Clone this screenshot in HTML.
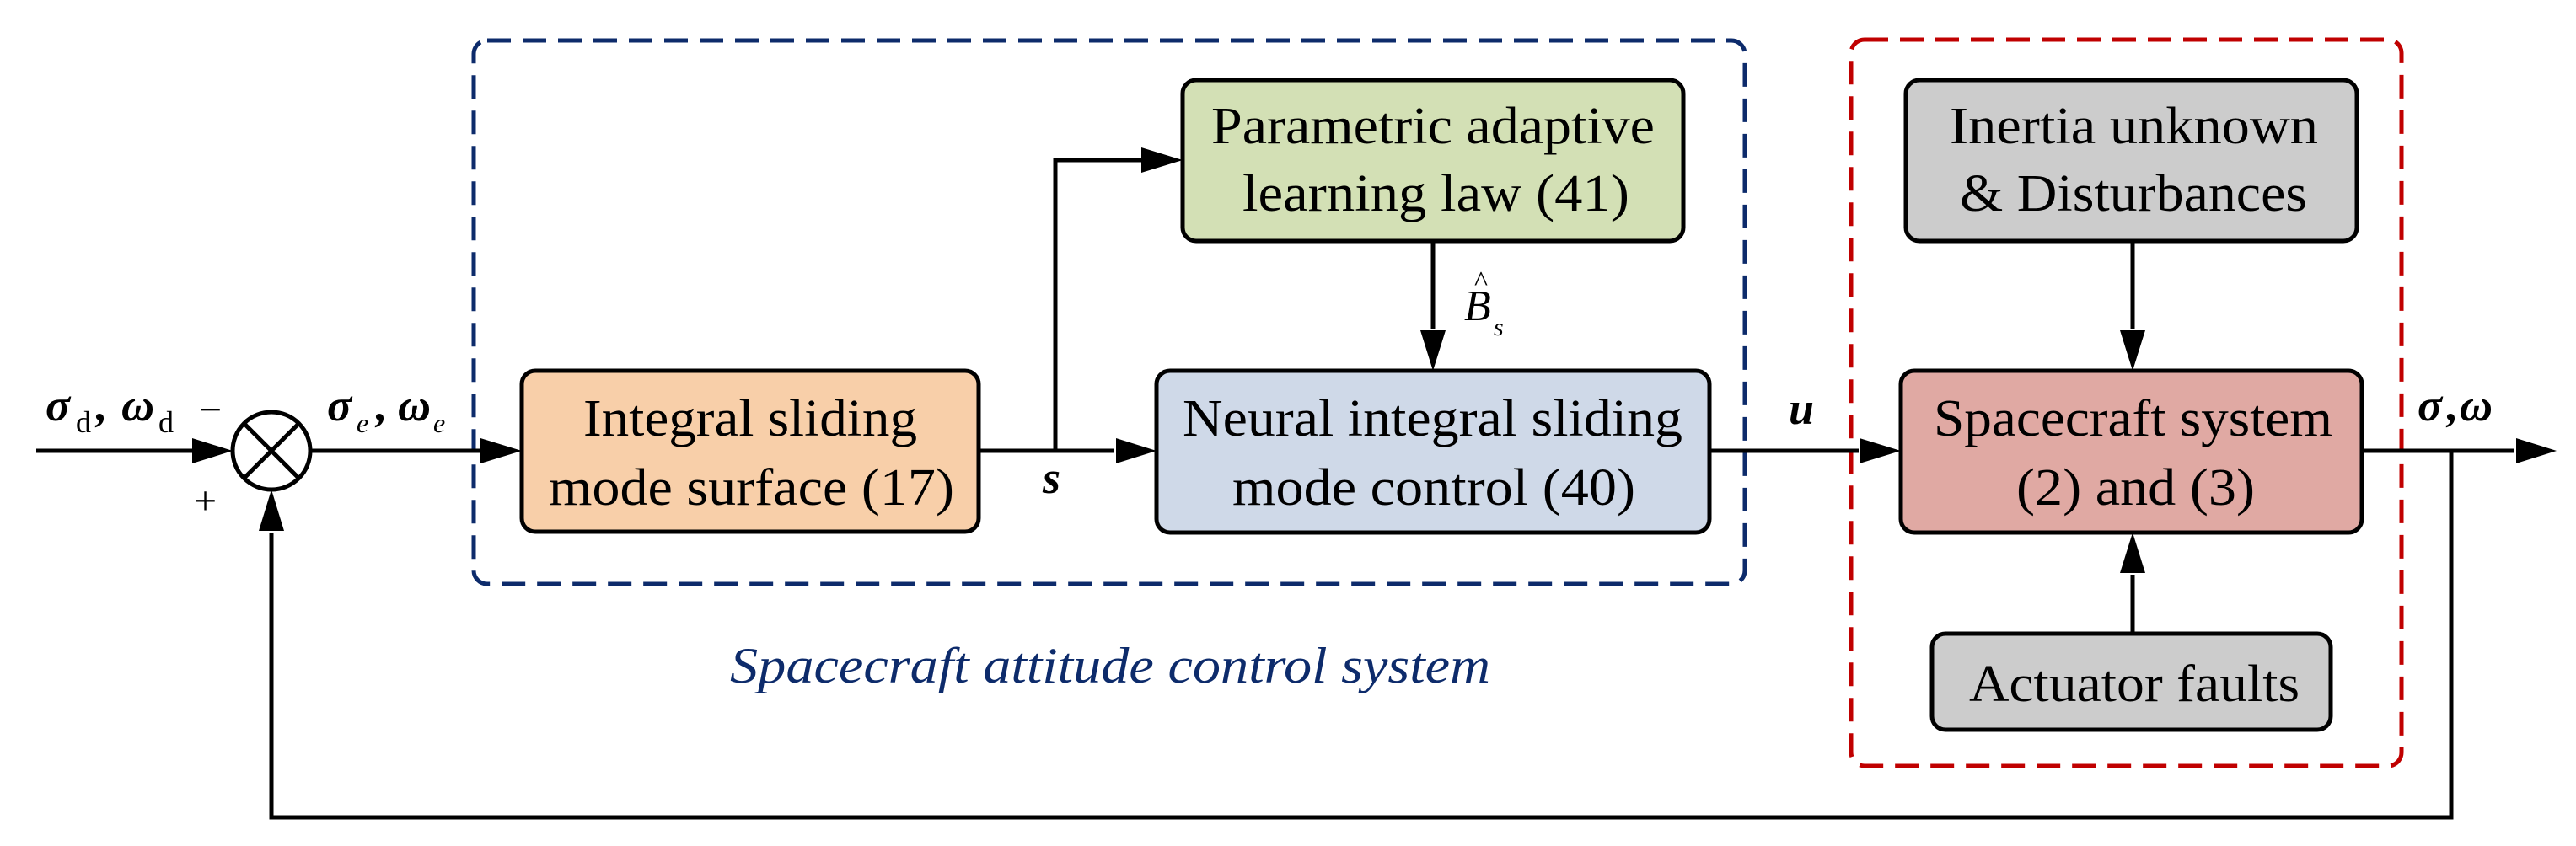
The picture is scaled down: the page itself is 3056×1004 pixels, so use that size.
<!DOCTYPE html>
<html><head><meta charset="utf-8"><style>html,body{margin:0;padding:0;background:#fff}svg{display:block}</style></head><body>
<svg width="3056" height="1004" viewBox="0 0 3056 1004" xmlns="http://www.w3.org/2000/svg" font-family="Liberation Serif, serif">
<rect width="3056" height="1004" fill="#fff"/>
<rect x="562" y="48" width="1508" height="645" rx="16" fill="none" stroke="#0d2b6b" stroke-width="5" stroke-dasharray="28,14"/>
<rect x="2196" y="47" width="653" height="862" rx="16" fill="none" stroke="#c00000" stroke-width="5" stroke-dasharray="28,14"/>
<g stroke="#000" stroke-width="5" fill="none">
<line x1="43" y1="535" x2="230" y2="535"/>
<line x1="368" y1="535" x2="570" y2="535"/>
<line x1="1161" y1="535" x2="1322" y2="535"/>
<polyline points="1252,535 1252,190 1354,190"/>
<line x1="1700" y1="286" x2="1700" y2="390"/>
<line x1="2028" y1="535" x2="2205" y2="535"/>
<line x1="2802" y1="535" x2="2983" y2="535"/>
<polyline points="2908,535 2908,970 322,970 322,632"/>
<line x1="2530" y1="286" x2="2530" y2="390"/>
<line x1="2530" y1="752" x2="2530" y2="682"/>
</g>
<g fill="#000">
<path d="M228,520 L276,535 L228,550z"/>
<path d="M570,520 L619,535 L570,550z"/>
<path d="M1324,520 L1372,535 L1324,550z"/>
<path d="M1354,175 L1403,190 L1354,205z"/>
<path d="M1685,392 L1700,440 L1715,392z"/>
<path d="M2206,520 L2255,535 L2206,550z"/>
<path d="M2985,520 L3033,535 L2985,550z"/>
<path d="M2515,392 L2530,440 L2545,392z"/>
<path d="M2515,680 L2530,632 L2545,680z"/>
<path d="M307,630 L322,581 L337,630z"/>
</g>
<circle cx="322" cy="535" r="46" fill="#fff" stroke="#000" stroke-width="5"/>
<line x1="289" y1="502" x2="355" y2="568" stroke="#000" stroke-width="5"/>
<line x1="355" y1="502" x2="289" y2="568" stroke="#000" stroke-width="5"/>
<g stroke="#000" stroke-width="5">
<rect x="619" y="440" width="542" height="191" rx="16" fill="#f8cfa9"/>
<rect x="1403" y="95" width="594" height="191" rx="16" fill="#d3e0b5"/>
<rect x="1372" y="440" width="656" height="192" rx="16" fill="#cfd9e8"/>
<rect x="2261" y="95" width="535" height="191" rx="16" fill="#cccccc"/>
<rect x="2255" y="440" width="547" height="192" rx="16" fill="#e0a9a3"/>
<rect x="2292" y="752" width="473" height="114" rx="16" fill="#cccccc"/>
</g>
<g font-size="62" fill="#000">
<text x="692" y="517" textLength="396" lengthAdjust="spacingAndGlyphs">Integral sliding</text>
<text x="651" y="599" textLength="481" lengthAdjust="spacingAndGlyphs">mode surface (17)</text>
<text x="1437" y="170" textLength="526" lengthAdjust="spacingAndGlyphs">Parametric adaptive</text>
<text x="1474" y="250" textLength="459" lengthAdjust="spacingAndGlyphs">learning law (41)</text>
<text x="1403" y="517" textLength="593" lengthAdjust="spacingAndGlyphs">Neural integral sliding</text>
<text x="1462" y="599" textLength="478" lengthAdjust="spacingAndGlyphs">mode control (40)</text>
<text x="2313" y="170" textLength="437" lengthAdjust="spacingAndGlyphs">Inertia unknown</text>
<text x="2325" y="250" textLength="412" lengthAdjust="spacingAndGlyphs">&amp; Disturbances</text>
<text x="2294" y="517" textLength="473" lengthAdjust="spacingAndGlyphs">Spacecraft system</text>
<text x="2392" y="599" textLength="283" lengthAdjust="spacingAndGlyphs">(2) and (3)</text>
<text x="2336" y="832" textLength="392" lengthAdjust="spacingAndGlyphs">Actuator faults</text>
</g>
<text x="866" y="810" font-size="60" font-style="italic" fill="#0d2b6b" textLength="902" lengthAdjust="spacingAndGlyphs">Spacecraft attitude control system</text>
<g font-weight="bold" font-style="italic" font-size="54" fill="#000">
<text x="54" y="499">σ</text><text x="90" y="513" font-size="36" font-weight="normal" font-style="normal">d</text>
<text x="114" y="499">,</text>
<text x="144" y="499">ω</text><text x="188" y="513" font-size="36" font-weight="normal" font-style="normal">d</text>
<text x="388" y="499">σ</text><text x="423" y="513" font-size="32" font-weight="normal">e</text>
<text x="446" y="499">,</text>
<text x="472" y="499">ω</text><text x="514" y="513" font-size="32" font-weight="normal">e</text>
<text x="1237" y="585">s</text>
<text x="2122" y="503">u</text>
<text x="2868" y="499">σ</text><text x="2903" y="499">,</text><text x="2918" y="499">ω</text>
</g>
<text x="236" y="502" font-size="48" fill="#000">−</text>
<text x="230" y="610" font-size="48" fill="#000">+</text>
<text x="1737" y="380" font-size="52" font-style="italic" fill="#000">B</text>
<text x="1749" y="345" font-size="34" fill="#000">^</text>
<text x="1772" y="398" font-size="30" font-style="italic" fill="#000">s</text>
</svg>
</body></html>
